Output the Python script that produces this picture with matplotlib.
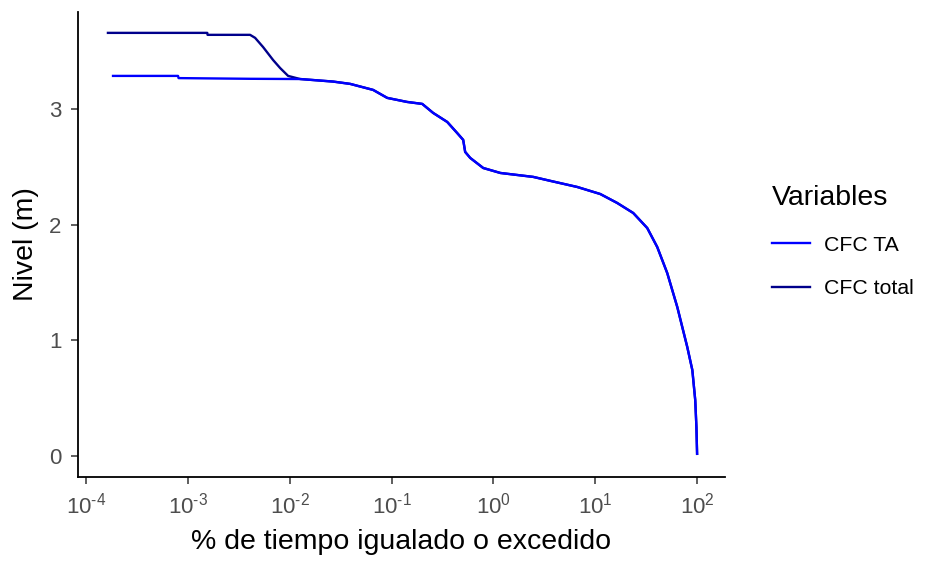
import numpy as np
import matplotlib.pyplot as plt
from matplotlib.ticker import FixedLocator, NullLocator

plt.rcParams['font.family'] = ['Liberation Sans', 'DejaVu Sans']
plt.rcParams['mathtext.fontset'] = 'custom'
plt.rcParams['mathtext.rm'] = 'Liberation Sans'
plt.rcParams['mathtext.it'] = 'Liberation Sans'

# curva de duracion - CFC TA (% tiempo, nivel m)
pct_ta = [1.84e-4, 8.0e-4, 8.1e-4, 4.08e-3, 0.01265, 0.0267, 0.0392, 0.0659,
          0.0906, 0.142, 0.200, 0.256, 0.352, 0.440, 0.505, 0.528, 0.592,
          0.794, 1.17, 2.46, 3.61, 6.65, 11.2, 16.4, 23.6, 32.4, 40.6, 50.9,
          63.9, 80.1, 89.8, 95.9, 98.5, 100.0]
nivel_ta = [3.287, 3.287, 3.268, 3.262, 3.260, 3.238, 3.218, 3.166,
            3.097, 3.062, 3.045, 2.967, 2.889, 2.794, 2.734, 2.630, 2.578,
            2.491, 2.448, 2.414, 2.380, 2.327, 2.266, 2.189, 2.102, 1.972,
            1.808, 1.583, 1.289, 0.943, 0.744, 0.484, 0.251, 0.02]

# CFC total: tramo inicial propio, luego coincide con CFC TA
pct_total_ini = [1.64e-4, 1.55e-3, 1.56e-3, 4.08e-3, 4.57e-3, 5.48e-3,
                 6.87e-3, 8.05e-3, 9.64e-3]
nivel_total_ini = [3.659, 3.659, 3.642, 3.642, 3.616, 3.536, 3.424,
                   3.355, 3.287]

tail = np.array(pct_ta) >= 0.01265
pct_total = list(pct_total_ini) + list(np.array(pct_ta)[tail])
nivel_total = list(nivel_total_ini) + list(np.array(nivel_ta)[tail])

fig = plt.figure(figsize=(9.32, 5.63), dpi=100)
ax = fig.add_axes([0.0837, 0.1528, 0.6943, 0.826])

ax.plot(pct_total, nivel_total, color='#00008B', lw=1.7, label='CFC total')
ax.plot(pct_ta, nivel_ta, color='#0000FF', lw=1.7, label='CFC TA')

ax.set_xscale('log')
ax.set_xlim(10 ** -4.079, 10 ** 2.275)
ax.set_ylim(-0.18, 3.84)

xt = [1e-4, 1e-3, 1e-2, 1e-1, 1e0, 1e1, 1e2]
ax.xaxis.set_major_locator(FixedLocator(xt))
ax.xaxis.set_minor_locator(NullLocator())
# guion normal (U+2010) en el exponente, como en el original
ax.set_xticklabels([r'$10^{%s}$' % str(int(np.log10(v))).replace('-', '\u2010')
                    for v in xt])
ax.set_yticks([0, 1, 2, 3])

ax.tick_params(axis='both', labelsize=16, labelcolor='#4D4D4D', color='#333333',
               length=5, width=1.1)
ax.tick_params(axis='x', pad=6)
ax.tick_params(axis='y', pad=7)
for s in ['top', 'right']:
    ax.spines[s].set_visible(False)
for s in ['left', 'bottom']:
    ax.spines[s].set_linewidth(1.3)

ax.set_xlabel('% de tiempo igualado o excedido', fontsize=20.5, labelpad=8)
ax.set_ylabel('Nivel (m)', fontsize=20.5, labelpad=7)

h, l = ax.get_legend_handles_labels()
leg = fig.legend(h[::-1], l[::-1], title='Variables', loc='upper left',
                 bbox_to_anchor=(0.808, 0.705), frameon=False, fontsize=15.3,
                 title_fontsize=20.5, handlelength=1.8, labelspacing=1.15,
                 handletextpad=0.65, alignment='left')

fig.savefig('out.png', dpi=100)
